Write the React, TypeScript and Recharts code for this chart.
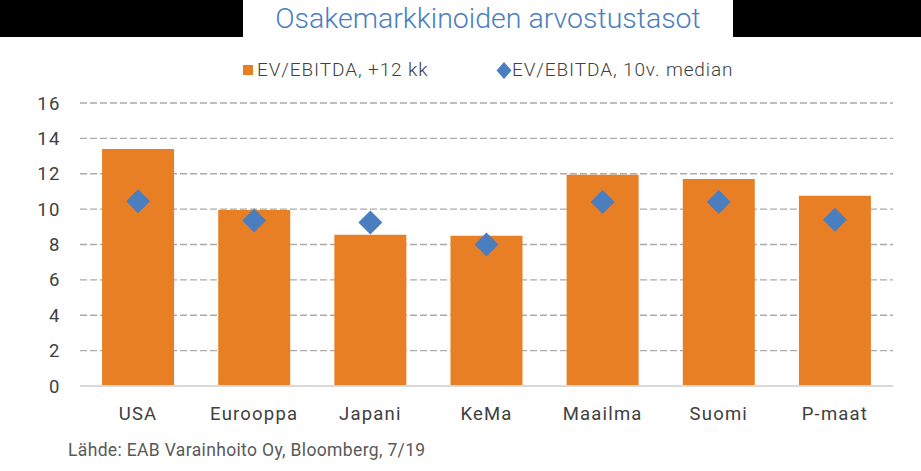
import React from 'react';
import { ComposedChart, Bar, Line, XAxis, YAxis, CartesianGrid } from 'recharts';

const categories = ['USA', 'Eurooppa', 'Japani', 'KeMa', 'Maailma', 'Suomi', 'P-maat'];
const evEbitdaForward = [13.4, 9.95, 8.55, 8.5, 11.95, 11.7, 10.75];
const evEbitdaMedian = [10.45, 9.35, 9.25, 8.0, 10.4, 10.4, 9.4];
const yTicks = [0, 2, 4, 6, 8, 10, 12, 14, 16];

const titleText = 'Osakemarkkinoiden arvostustasot';
const legendForward = 'EV/EBITDA, +12 kk';
const legendMedian = 'EV/EBITDA, 10v. median';
const sourceText = 'Lähde: EAB Varainhoito Oy, Bloomberg, 7/19';

const ORANGE = '#E97F25';
const BLUE = '#4A7EBF';
const TEXT = '#404040';

const data = categories.map((name, i) => ({
  name,
  fwd: evEbitdaForward[i],
  med: evEbitdaMedian[i],
}));

const Diamond = (props: any) => {
  const { cx, cy, index } = props;
  if (cx == null || cy == null) return null;
  const r = 12;
  return (
    <polygon
      key={`d-${index}`}
      points={`${cx},${cy - r} ${cx + r},${cy} ${cx},${cy + r} ${cx - r},${cy}`}
      fill={BLUE}
    />
  );
};

export default function App() {
  const font = 'Roboto, "Open Sans", sans-serif';
  return (
    <div style={{ position: 'absolute', left: 0, top: 0, width: 921, height: 471, background: '#fff', overflow: 'hidden', fontFamily: font }}>
      <div style={{ position: 'absolute', left: 0, top: 0, width: 243, height: 37, background: '#000' }} />
      <div style={{ position: 'absolute', left: 733, top: 0, width: 188, height: 37, background: '#000' }} />
      <ComposedChart
        width={921}
        height={471}
        data={data}
        margin={{ top: 103, right: 28, bottom: 55, left: 0 }}
        barCategoryGap="19%"
      >
        <CartesianGrid vertical={false} stroke="#ababab" strokeDasharray="7 3" strokeWidth={1.3} />
        <XAxis
          dataKey="name"
          height={30}
          axisLine={{ stroke: '#d9d9d9', strokeWidth: 2 }}
          tickLine={false}
          tickMargin={15}
          tick={{ fill: TEXT, fontSize: 18.5, fontFamily: font, style: { letterSpacing: '1.2px' } }}
          interval={0}
        />
        <YAxis
          width={80}
          domain={[0, 16]}
          ticks={yTicks}
          axisLine={false}
          tickLine={false}
          tickMargin={13}
          tick={{ fill: TEXT, fontSize: 18.5, fontFamily: font, style: { letterSpacing: '1.5px' } }}
          interval={0}
        />
        <Bar dataKey="fwd" fill={ORANGE} isAnimationActive={false} />
        <Line dataKey="med" stroke="none" dot={<Diamond />} activeDot={false} isAnimationActive={false} />
      </ComposedChart>
      <div style={{ position: 'absolute', left: 243, width: 490, top: 1, textAlign: 'center', fontSize: 28.5, fontWeight: 300, color: BLUE, lineHeight: '36px' }}>
        {titleText}
      </div>
      <div style={{ position: 'absolute', left: 243, top: 65, width: 10, height: 10, background: ORANGE }} />
      <div style={{ position: 'absolute', left: 257, top: 58, fontSize: 19, fontWeight: 300, color: '#404040', lineHeight: '24px', letterSpacing: '0.9px' }}>{legendForward}</div>
      <svg style={{ position: 'absolute', left: 496, top: 62 }} width={16} height={17}>
        <polygon points="8,0 15.5,8.5 8,17 0.5,8.5" fill={BLUE} />
      </svg>
      <div style={{ position: 'absolute', left: 512, top: 58, fontSize: 19, fontWeight: 300, color: '#404040', lineHeight: '24px', letterSpacing: '0.9px' }}>{legendMedian}</div>
      <div style={{ position: 'absolute', left: 68, top: 439, fontSize: 17.5, color: '#595959', lineHeight: '22px', letterSpacing: '0.35px' }}>{sourceText}</div>
    </div>
  );
}
